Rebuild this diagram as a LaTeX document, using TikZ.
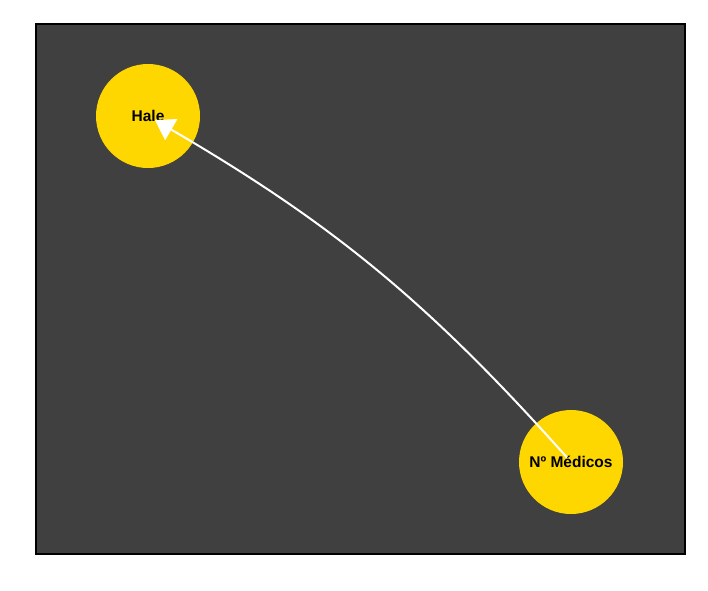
\documentclass[tikz,border=0pt]{standalone}
\usepackage{fontspec}
\setmainfont{Liberation Sans}
\usetikzlibrary{arrows.meta}
\definecolor{panel}{HTML}{404040}
\definecolor{gold}{HTML}{FFD700}
\begin{document}
\begin{tikzpicture}[x=1pt,y=-1pt]

        \useasboundingbox (0,0) rectangle (708,590);
        \draw[line width=2pt,fill=panel] (35.5,23.5) rectangle (684.5,553.5);

        \begin{scope}[every node/.style={circle,fill=gold,minimum size=104pt,inner sep=0pt,
            font=\fontsize{15.5}{18}\selectfont\bfseries}]
          \node (hale)    at (148,116) {Hale};
          \node (medicos) at (571,462) {Nº Médicos};
        \end{scope}

        \begin{scope}[every edge/.style={draw=white,line width=2pt,
            -{Triangle[width=24pt,length=19pt,fill=white]}}]
          \path (medicos.center) edge[bend right=9,shorten <=6pt,shorten >=8pt] (hale.center);
        \end{scope}

      \end{tikzpicture}
\end{document}
